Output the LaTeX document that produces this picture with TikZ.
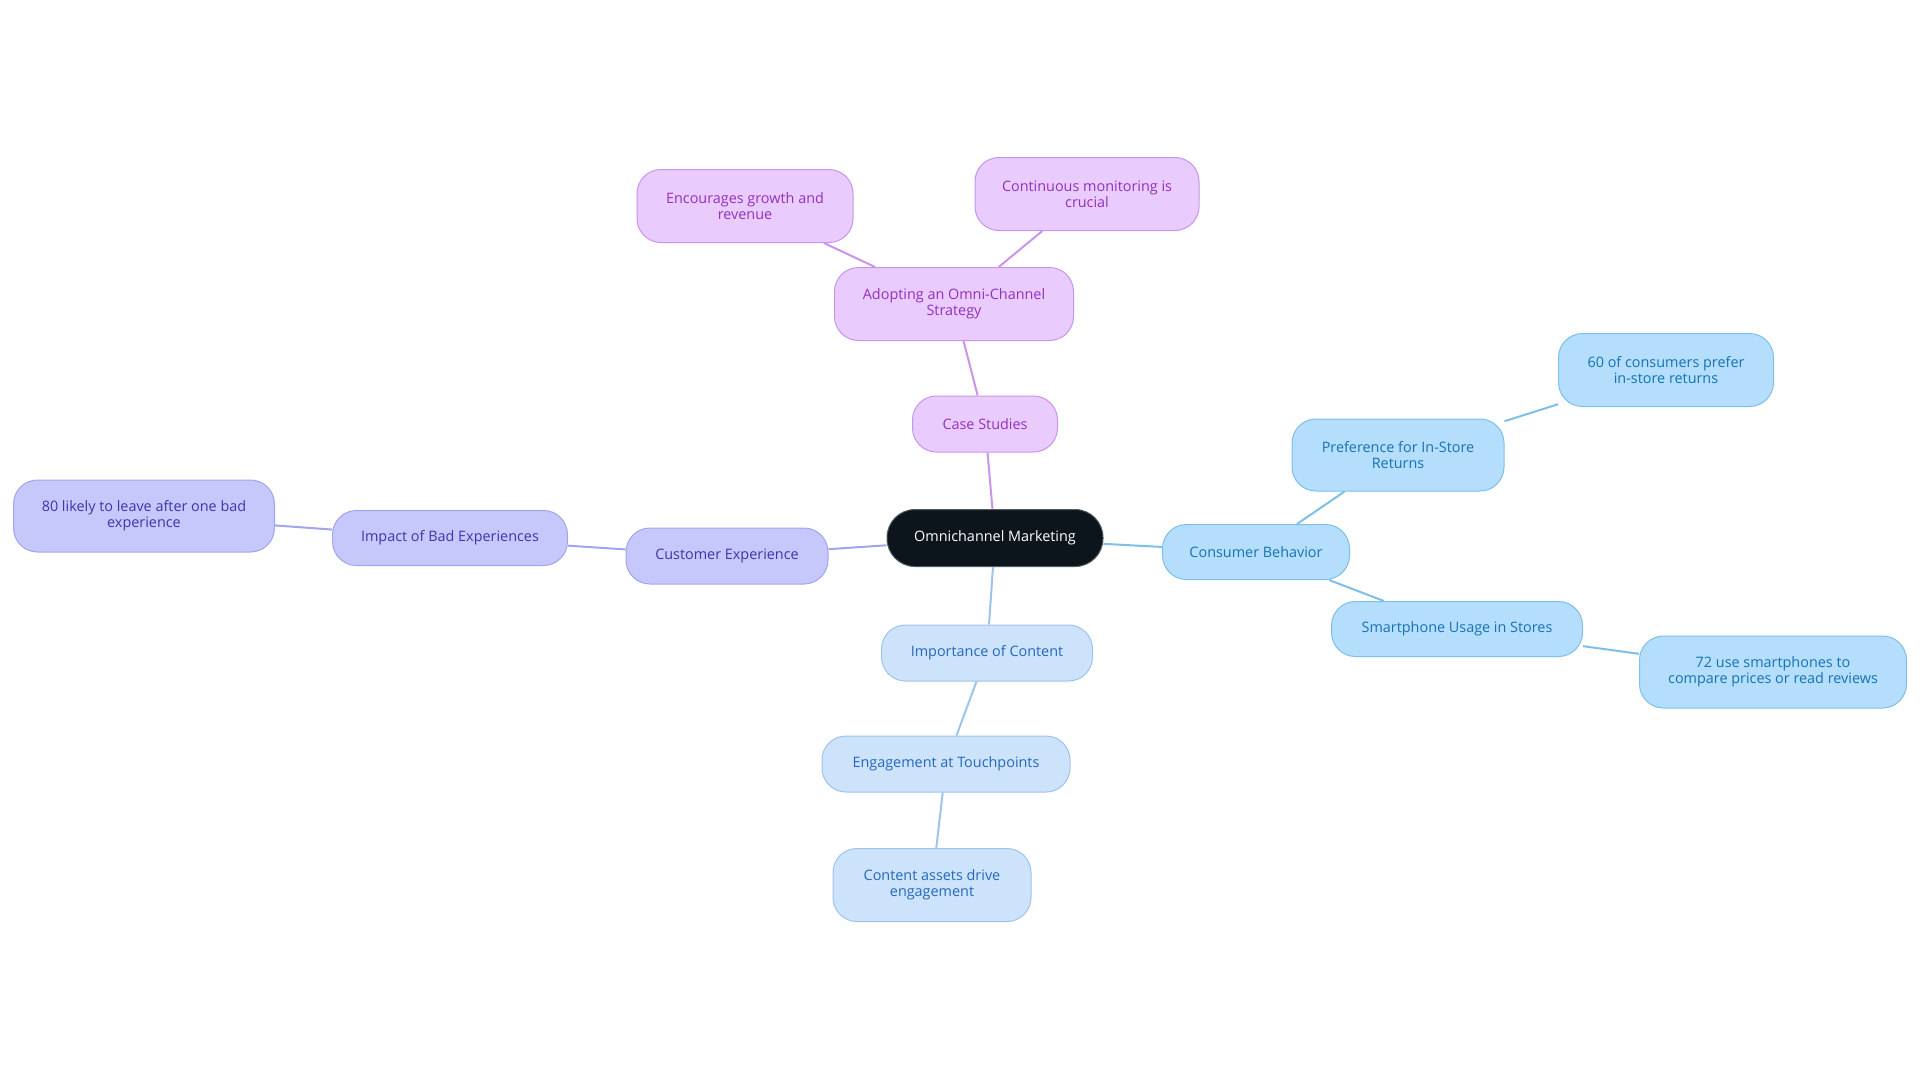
\documentclass[tikz,border=0pt]{standalone}
\usepackage{fontspec}
\setmainfont{Open Sans}
\usepackage{xcolor}
\usepackage{tikz}
\usetikzlibrary{positioning}
\definecolor{rootdark}{HTML}{0C141C}
\definecolor{casefill}{HTML}{E9CCFD}
\definecolor{casedraw}{HTML}{C994EA}
\definecolor{casetext}{HTML}{9330BF}
\definecolor{custfill}{HTML}{C6C8FB}
\definecolor{custdraw}{HTML}{A3A4EE}
\definecolor{custtext}{HTML}{3A37AE}
\definecolor{consfill}{HTML}{B4DEFC}
\definecolor{consdraw}{HTML}{7EBFEA}
\definecolor{constext}{HTML}{1573B5}
\definecolor{contfill}{HTML}{CDE3FB}
\definecolor{contdraw}{HTML}{9EC3EC}
\definecolor{conttext}{HTML}{2368BE}

\begin{document}
\begin{tikzpicture}[x=0.5pt, y=-0.5pt,
    font=\fontsize{7.2}{8.2}\selectfont,
    topic/.style={rounded corners=12pt, align=center, inner sep=0pt, line width=0.5pt},
    rootbox/.style={topic, rounded corners=14pt, fill=rootdark, draw=rootdark!70!white, text=white},
    casebox/.style={topic, fill=casefill, draw=casedraw, text=casetext},
    custbox/.style={topic, fill=custfill, draw=custdraw, text=custtext},
    consbox/.style={topic, fill=consfill, draw=consdraw, text=constext},
    contbox/.style={topic, fill=contfill, draw=contdraw, text=conttext},
    caselink/.style={draw=casedraw, line width=1pt},
    custlink/.style={draw=custdraw, line width=1pt},
    conslink/.style={draw=consdraw, line width=1pt},
    contlink/.style={draw=contdraw, line width=1pt}]
    \useasboundingbox (0, 0) rectangle (1920, 1083);

    % Root
    \node[rootbox, minimum width=108pt, minimum height=28.5pt] (root) at (995, 538) {Omnichannel Marketing};

    % Case studies branch
    \node[casebox, minimum width=72.5pt, minimum height=28pt] (cases) at (985, 424) {Case Studies};
    \node[casebox, minimum width=119.5pt, minimum height=36.5pt] (adopt) at (954, 304) {Adopting an Omni-Channel\\Strategy};
    \node[casebox, minimum width=108pt, minimum height=36.5pt] (growth) at (745, 206) {Encourages growth and\\revenue};
    \node[casebox, minimum width=112pt, minimum height=36.5pt] (monitor) at (1087, 194) {Continuous monitoring is\\crucial};

    % Customer experience branch
    \node[custbox, minimum width=101pt, minimum height=28pt] (custexp) at (727, 556) {Customer Experience};
    \node[custbox, minimum width=117.5pt, minimum height=27.5pt] (badexp) at (450, 538) {Impact of Bad Experiences};
    \node[custbox, minimum width=130.5pt, minimum height=36pt] (leave) at (144, 516) {80 likely to leave after one bad\\experience};

    % Consumer behavior branch
    \node[consbox, minimum width=93.5pt, minimum height=27.5pt] (consumer) at (1256, 552) {Consumer Behavior};
    \node[consbox, minimum width=106pt, minimum height=36pt] (returns) at (1398, 455) {Preference for In-Store\\Returns};
    \node[consbox, minimum width=107.5pt, minimum height=36.5pt] (prefer) at (1666, 370) {60 of consumers prefer\\in-store returns};
    \node[consbox, minimum width=125.5pt, minimum height=27.5pt] (phones) at (1457, 629) {Smartphone Usage in Stores};
    \node[consbox, minimum width=133.5pt, minimum height=36pt] (compare) at (1773, 672) {72 use smartphones to\\compare prices or read reviews};

    % Content branch
    \node[contbox, minimum width=105.5pt, minimum height=28pt] (content) at (987, 653) {Importance of Content};
    \node[contbox, minimum width=124pt, minimum height=28pt] (touch) at (946, 764) {Engagement at Touchpoints};
    \node[contbox, minimum width=99pt, minimum height=36.5pt] (assets) at (932, 885) {Content assets drive\\engagement};

    % Links
    \draw[caselink] (root) -- (cases);
    \draw[caselink] (cases) -- (adopt);
    \draw[caselink] (adopt) -- (growth);
    \draw[caselink] (adopt) -- (monitor);
    \draw[custlink] (root) -- (custexp);
    \draw[custlink] (custexp) -- (badexp);
    \draw[custlink] (badexp) -- (leave);
    \draw[conslink] (root) -- (consumer);
    \draw[conslink] (consumer) -- (returns);
    \draw[conslink] (returns) -- (prefer);
    \draw[conslink] (consumer) -- (phones);
    \draw[conslink] (phones) -- (compare);
    \draw[contlink] (root) -- (content);
    \draw[contlink] (content) -- (touch);
    \draw[contlink] (touch) -- (assets);
\end{tikzpicture}
\end{document}
